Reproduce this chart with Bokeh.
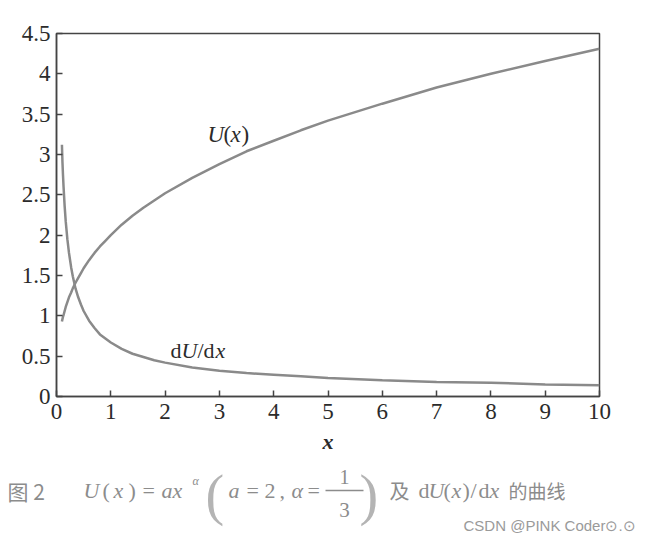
from bokeh.plotting import figure
from bokeh.models import Label, FixedTicker, Range1d
from bokeh.layouts import column
from bokeh.embed import file_html
from bokeh.resources import INLINE

# ---- data ----
x_vals = [0.1, 0.11, 0.12, 0.13, 0.15, 0.17, 0.2, 0.23, 0.27, 0.3, 0.35, 0.4, 0.45, 0.5,
          0.6, 0.7, 0.8, 0.9, 1.0, 1.2, 1.4, 1.6, 1.8, 2.0, 2.5, 3.0, 3.5, 4.0, 4.5, 5.0,
          6.0, 7.0, 8.0, 9.0, 10.0]
u_vals = [0.93, 0.96, 0.99, 1.01, 1.06, 1.11, 1.17, 1.23, 1.29, 1.34, 1.41, 1.47, 1.53, 1.59,
          1.69, 1.78, 1.86, 1.93, 2.00, 2.13, 2.24, 2.34, 2.43, 2.52, 2.71, 2.88, 3.04, 3.17,
          3.30, 3.42, 3.63, 3.83, 4.00, 4.16, 4.31]
du_vals = [3.12, 2.90, 2.74, 2.60, 2.36, 2.17, 1.95, 1.78, 1.60, 1.49, 1.34, 1.23, 1.14, 1.06,
           0.94, 0.85, 0.77, 0.72, 0.67, 0.59, 0.53, 0.49, 0.45, 0.42, 0.36, 0.32, 0.29, 0.27,
           0.25, 0.23, 0.20, 0.18, 0.17, 0.15, 0.14]

x_ticks = [0, 1, 2, 3, 4, 5, 6, 7, 8, 9, 10]
y_ticks = [0, 0.5, 1, 1.5, 2, 2.5, 3, 3.5, 4, 4.5]
y_tick_labels = ["0", "0.5", "1", "1.5", "2", "2.5", "3", "3.5", "4", "4.5"]

# ---- layout (page pixels) ----
W = 644
HM, HC = 456, 80               # main plot height, caption strip height
L, R, T, B = 56, 599, 33, 400   # frame edges
XMAX, YMAX = 10.0, 4.5

def dx(px):
    return (px - L) / (R - L) * XMAX

def dy(py):
    return (B - py) / (B - T) * YMAX

p = figure(width=W, height=HM, output_backend="svg", toolbar_location=None,
           x_range=Range1d(0, XMAX), y_range=Range1d(0, YMAX))
p.min_border_left = L
p.min_border_right = W - R
p.min_border_top = T
p.min_border_bottom = HM - B
p.background_fill_color = "white"
p.border_fill_color = "white"
p.grid.visible = False
p.outline_line_color = "#444444"
p.outline_line_width = 1.5
p.frame_align = False

SERIF = "Liberation Serif"
TICK_COLOR = "#2b2b2b"

p.xaxis.ticker = FixedTicker(ticks=x_ticks)
p.yaxis.ticker = FixedTicker(ticks=y_ticks)
p.yaxis.major_label_overrides = {t: s for t, s in zip(y_ticks, y_tick_labels)}
for ax in (p.xaxis, p.yaxis):
    ax.axis_line_color = "#444444"
    ax.axis_line_width = 1.5
    ax.major_tick_line_color = "#444444"
    ax.major_tick_line_width = 1.5
    ax.major_tick_in = 6
    ax.major_tick_out = 0
    ax.minor_tick_line_color = None
    ax.major_label_text_font = SERIF
    ax.major_label_text_font_size = "23px"
    ax.major_label_text_color = TICK_COLOR
p.xaxis.major_label_standoff = 7
p.yaxis.major_label_standoff = 6

p.xaxis.axis_label = "x"
p.xaxis.axis_label_text_font = SERIF
p.xaxis.axis_label_text_font_style = "bold italic"
p.xaxis.axis_label_text_font_size = "22px"
p.xaxis.axis_label_text_color = TICK_COLOR
p.xaxis.axis_label_standoff = 7

LINE = "#8a8a8a"
p.line(x_vals, u_vals, line_color=LINE, line_width=2.5)
p.line(x_vals, du_vals, line_color=LINE, line_width=2.5)

def lab(fig, text, x, y, size="20px", style="normal", font=SERIF, color=TICK_COLOR,
        align="left", baseline="middle"):
    fig.add_layout(Label(x=x, y=y, text=text, text_font=font,
                         text_font_size=size, text_font_style=style,
                         text_color=color, text_align=align, text_baseline=baseline))

# curve labels
for t, px, st in [("U", 207, "italic"), ("(", 223, "normal"), ("x", 230, "italic"), (")", 241, "normal")]:
    lab(p, t, dx(px), dy(135), size="23px", style=st)
for t, px, st in [("d", 170, "normal"), ("U", 181, "italic"), ("/", 197, "normal"),
                  ("d", 203, "normal"), ("x", 215, "italic")]:
    lab(p, t, dx(px), dy(353), size="22px", style=st)

# ---- caption strip (coordinates: page pixels) ----
c = figure(width=W, height=HC, output_backend="svg", toolbar_location=None,
           x_range=Range1d(0, W), y_range=Range1d(HM + HC, HM),
           x_axis_location=None, y_axis_location=None)
c.min_border_left = c.min_border_right = c.min_border_top = c.min_border_bottom = 0
c.grid.visible = False
c.outline_line_color = None
c.background_fill_color = "white"
c.border_fill_color = "white"
c.frame_align = False

CAP = "#8c8c8c"
PAREN = "#b4b4b4"
CJK = "Noto Sans CJK SC"
Y0 = 490
FS = "22px"
lab(c, "图 2", 7, Y0, size="21px", font=CJK, color=CAP)
lab(c, "U", 83, Y0, size=FS, style="italic", color=CAP)
lab(c, "(", 102, Y0, size=FS, color=CAP)
lab(c, "x", 113, Y0, size=FS, style="italic", color=CAP)
lab(c, ")", 128, Y0, size=FS, color=CAP)
lab(c, "=", 142, Y0, size=FS, color=CAP)
lab(c, "ax", 161, Y0, size=FS, style="italic", color=CAP)
lab(c, "α", 192, 480, size="12px", style="italic", color=CAP)
lab(c, "(", 205, 494, size="56px", color=PAREN)
lab(c, "a", 228, Y0, size=FS, style="italic", color=CAP)
lab(c, "=", 246, Y0, size=FS, color=CAP)
lab(c, "2", 264, Y0, size=FS, color=CAP)
lab(c, ",", 279, Y0, size=FS, color=CAP)
lab(c, "α", 291, Y0, size=FS, style="italic", color=CAP)
lab(c, "=", 307, Y0, size=FS, color=CAP)
lab(c, "1", 344, 476, size="20px", color=CAP, align="center")
c.segment(x0=[325], y0=[490], x1=[363], y1=[490], line_color=CAP, line_width=1.3)
lab(c, "3", 344, 509, size="21px", color=CAP, align="center")
lab(c, ")", 359, 494, size="56px", color=PAREN)
lab(c, "及", 389, Y0, size="20px", font=CJK, color=CAP)
lab(c, "d", 418, Y0, size=FS, color=CAP)
lab(c, "U", 428, Y0, size=FS, style="italic", color=CAP)
lab(c, "(", 443, Y0, size=FS, color=CAP)
lab(c, "x", 451, Y0, size=FS, style="italic", color=CAP)
lab(c, ")", 462, Y0, size=FS, color=CAP)
lab(c, "/", 470, Y0, size=FS, color=CAP)
lab(c, "d", 478, Y0, size=FS, color=CAP)
lab(c, "x", 489, Y0, size=FS, style="italic", color=CAP)
lab(c, "的曲线", 508, Y0, size="19px", font=CJK, color=CAP)

lab(c, "CSDN @PINK Coder\u2299.\u2299", 463, 525, size="15px", font="Liberation Sans", color="#9a9a9a")

layout = column(p, c, spacing=0)
open("out.html", "w").write(file_html(layout, INLINE))
